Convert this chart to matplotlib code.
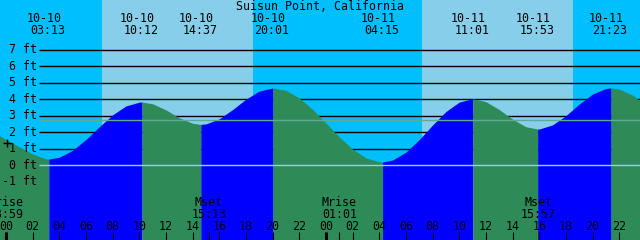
import matplotlib
matplotlib.use('Agg')
import matplotlib.pyplot as plt
from matplotlib.transforms import blended_transform_factory
import numpy as np

# ------------------------------------------------------------
# data (hours counted from 10-10 00:00)
# ------------------------------------------------------------
title = 'Suisun Point, California'

tide_dates  = ['10-10', '10-10', '10-10', '10-10', '10-11', '10-11', '10-11', '10-11']
tide_times  = ['03:13', '10:12', '14:37', '20:01', '04:15', '11:01', '15:53', '21:23']
tide_levels = [0.36, 3.82, 2.46, 4.67, 0.18, 4.02, 2.18, 4.67]

curve_hours  = list(range(-1, 49))
curve_levels = [2.00, 1.55, 1.10, 0.66, 0.37, 0.47, 0.89, 1.55, 2.32, 3.04,
                3.58, 3.81, 3.71, 3.34, 2.86, 2.53, 2.49, 2.80, 3.36, 3.99,
                4.48, 4.67, 4.52, 4.06, 3.37, 2.54, 1.70, 0.96, 0.43, 0.19,
                0.30, 0.78, 1.54, 2.42, 3.24, 3.81, 4.02, 3.84, 3.36, 2.78,
                2.32, 2.18, 2.43, 2.99, 3.69, 4.30, 4.64, 4.60, 4.24, 3.61]

sun_dates = ['10-10', '10-10', '10-11', '10-11']
sun_times = ['07:12', '18:32', '07:11', '18:34']   # rise, set, rise, set

moon_labels = ['Mrise', 'Mset', 'Mrise', 'Mset']
moon_dates  = ['10-09', '10-10', '10-11', '10-11']
moon_times  = ['23:59', '15:13', '01:01', '15:57']

ft_labels = [7, 6, 5, 4, 3, 2, 1, 0, -1]
grid_ft   = [1, 2, 3, 4, 5, 6, 7]
msl_ft    = 2.71
now_h, now_ft = [0.11], [1.36]

# colours
NIGHT = '#00BFFF'
DAY   = '#87CEEB'
RISE  = '#0000FF'
FALL  = '#2E8B57'
ZERO  = '#96D2E6'
MSL   = '#5FAA94'

day_off = {'10-09': -24, '10-10': 0, '10-11': 24}
def to_h(d, t):
    hh, mm = t.split(':')
    return day_off[d] + int(hh) + int(mm) / 60.0

tide_hours = [to_h(d, t) for d, t in zip(tide_dates, tide_times)]
sun_hours  = [to_h(d, t) for d, t in zip(sun_dates, sun_times)]
moon_hours = [to_h(d, t) for d, t in zip(moon_dates, moon_times)]

# ------------------------------------------------------------
# pixel layout: 640x240, 13.33 px / hour, 16.5 px / ft
# ------------------------------------------------------------
W, H = 640, 240
PXH, X0 = 13.33, 6.0
PXF, Y0 = 16.5, 165.0
def hx(px):  return (px - X0) / PXH        # pixel -> hour
def fy(px):  return 1 - px / H             # pixel from top -> axes fraction

plt.rcParams['font.family'] = 'DejaVu Sans Mono'
FS = 8.4

fig = plt.figure(figsize=(W / 100, H / 100), dpi=100)
ax = fig.add_axes([0, 0, 1, 1])
ax.set_xlim(hx(0), hx(W))
ax.set_ylim((Y0 - H) / PXF, Y0 / PXF)
ax.set_xticks([]); ax.set_yticks([])
for s in ax.spines.values():
    s.set_visible(False)
ax.set_facecolor(NIGHT)

# daylight
for a, b in zip(sun_hours[0::2], sun_hours[1::2]):
    ax.axvspan(a, b, color=DAY, lw=0, zorder=0)

# ft grid (hidden below the water)
x_line = hx(39)
ax.hlines(grid_ft, x_line, hx(W), color='black', lw=1.0, zorder=1)

# water, blue while rising, green while falling
t_all = np.array(curve_hours + tide_hours, dtype=float)
l_all = np.array(curve_levels + tide_levels, dtype=float)
order = np.argsort(t_all)
t_all, l_all = t_all[order], l_all[order]
b_t = [curve_hours[0]] + tide_hours + [curve_hours[-1]]
b_l = [curve_levels[0]] + tide_levels + [curve_levels[-1]]
ybot = (Y0 - H) / PXF
for i in range(len(b_t) - 1):
    m = (t_all >= b_t[i]) & (t_all <= b_t[i + 1])
    col = RISE if b_l[i + 1] > b_l[i] else FALL
    ax.fill_between(t_all[m], l_all[m], ybot, color=col, lw=0, zorder=2)

ax.hlines([0], x_line, hx(W), color=ZERO, lw=1.0, zorder=3)
ax.hlines([msl_ft], x_line, hx(W), color=MSL, lw=1.0, zorder=3)

ax.plot(now_h, now_ft, marker='+', ms=6, mew=1.0, color='black', ls='none', zorder=5)

# y labels
for f in ft_labels:
    ax.annotate(f'{f} ft', xy=(37 / W, f), xycoords=('axes fraction', 'data'),
                xytext=(0, -3.7), textcoords='offset pixels',
                ha='right', va='baseline', fontsize=FS, zorder=6)

tr = blended_transform_factory(ax.transData, ax.transAxes)

# title
ax.text(hx(320), fy(10), title, transform=tr, ha='center', va='baseline', fontsize=FS, zorder=6)

# high / low labels
for t, d, s in zip(tide_hours, tide_dates, tide_times):
    ax.text(t - 4.5 / PXH, fy(21.7), d, transform=tr, ha='center', va='baseline', fontsize=FS, zorder=6)
    ax.text(t - 1.0 / PXH, fy(34), s, transform=tr, ha='center', va='baseline', fontsize=FS, zorder=6)

# moon events
for t, n, s in zip(moon_hours, moon_labels, moon_times):
    ax.text(t, fy(206), n, transform=tr, ha='center', va='baseline', fontsize=FS, zorder=6)
    ax.text(t, fy(218), s, transform=tr, ha='center', va='baseline', fontsize=FS, zorder=6)
    ax.vlines(t, 0, 8 / H, transform=tr, color='black', lw=0.8, zorder=6)

# hour axis
for h in range(0, 49, 2):
    ax.text(h, fy(230), f'{h % 24:02d}', transform=tr, ha='center', va='baseline', fontsize=FS, zorder=6)
    ax.vlines(h, 0, 8 / H, transform=tr, color='black',
              lw=2.2 if h % 24 == 0 else 0.8, zorder=6)

fig.savefig('out.png', dpi=100)
